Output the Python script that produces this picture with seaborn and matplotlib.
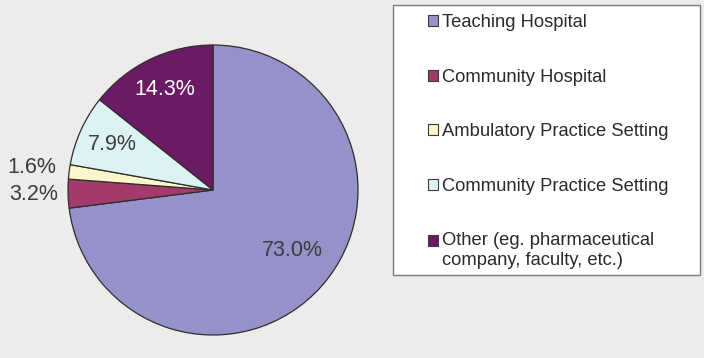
import matplotlib
matplotlib.use("Agg")
import matplotlib.pyplot as plt
import seaborn as sns
import numpy as np
from matplotlib.patches import Rectangle, Patch

categories = ["Teaching Hospital", "Community Hospital", "Ambulatory Practice Setting",
              "Community Practice Setting", "Other (eg. pharmaceutical\ncompany, faculty, etc.)"]
values = [73.0, 3.2, 1.6, 7.9, 14.3]
colors = ["#9591C9", "#A23A6C", "#FCF6CA", "#DDF3F3", "#6D1A65"]

sns.set_style("white")
plt.rcParams["font.family"] = ["Liberation Sans", "DejaVu Sans"]

BG = "#EEECEA"
fig = plt.figure(figsize=(7.04, 3.58), dpi=100, facecolor=BG)
W, H = 704, 358
cx, cy, R = 213, 190, 145
half = 150
ax = fig.add_axes([(cx - half) / W, (H - cy - half) / H, 2 * half / W, 2 * half / H])
ax.set_facecolor(BG)

wedges, texts, autotexts = ax.pie(values, colors=colors, startangle=90, counterclock=False,
                                   autopct="%.1f%%", pctdistance=0.75,
                                   wedgeprops=dict(edgecolor="#2E2E2E", linewidth=0.9),
                                   textprops=dict(fontsize=15.5, color="#3C3C3C"))
ax.set_xlim(-half / R, half / R)
ax.set_ylim(-half / R, half / R)
ax.set_aspect("equal")
ax.axis("off")

dist = [0.69, 1.24, 1.26, 0.76, 0.77]
for w, t, d in zip(wedges, autotexts, dist):
    mid = np.deg2rad((w.theta1 + w.theta2) / 2 + (4 if d < 0.7 else 0))
    t.set_position((d * np.cos(mid), d * np.sin(mid)))
autotexts[4].set_color("white")

# legend box
x0, x1, y0, y1 = 393, 700, 5, 275
fig.patches.append(Rectangle((x0 / W, (H - y1) / H), (x1 - x0) / W, (y1 - y0) / H,
                             transform=fig.transFigure, facecolor="white",
                             edgecolor="#7A7A7A", linewidth=1.0, zorder=0))
handles = [Patch(facecolor=c, edgecolor="#3A3A3A", linewidth=0.8) for c in colors]
leg = fig.legend(handles, categories, loc="upper left", bbox_to_anchor=(428 / W, (H - 14) / H),
                 frameon=False, fontsize=13.2, handlelength=0.56, handleheight=0.56,
                 handletextpad=0.22, labelspacing=2.05, borderpad=0, borderaxespad=0,
                 labelcolor="#2A2A2A")
# align the last (two-line) entry's square with its first line
last = leg.legend_handles[-1]
last.set_y(last.get_y() + 7.2)

fig.savefig("out.png", dpi=100, facecolor=BG)
